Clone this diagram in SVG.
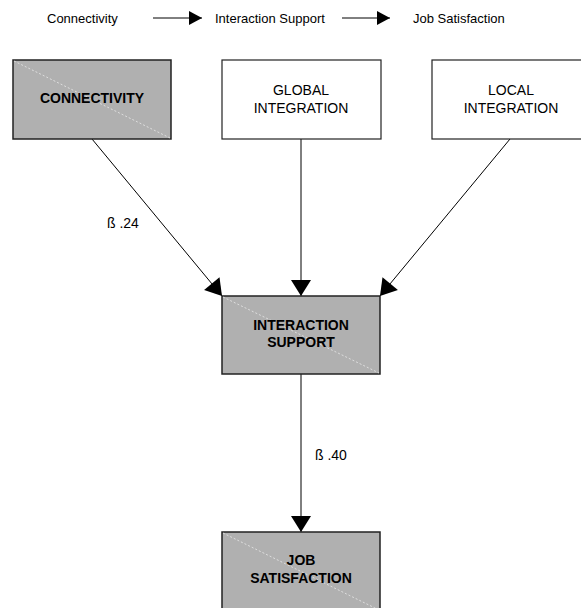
<svg xmlns="http://www.w3.org/2000/svg" width="581" height="608" viewBox="0 0 581 608">
<style>
  text { font-family: "Liberation Sans", Arial, sans-serif; fill: #000; }
  .legend { font-size: 13px; }
  .lbl { font-size: 14px; text-anchor: middle; }
  .bold { font-weight: bold; }
  .beta { font-size: 14px; }
  .gray { fill: #b0b0b0; stroke: #222; stroke-width: 1.5; }
  .white { fill: #fff; stroke: #222; stroke-width: 1.2; }
  .diag { stroke: #e8e8e8; stroke-width: 0.8; stroke-dasharray: 2 2; fill: none; }
  .conn { stroke: #000; stroke-width: 1; fill: none; }
</style>
<defs>
  <marker id="ah" markerUnits="userSpaceOnUse" markerWidth="20" markerHeight="20" viewBox="0 0 16 20" refX="16" refY="10" orient="auto">
    <path d="M0,0 L16,10 L0,20 Z" fill="#000"/>
  </marker>
  <marker id="ahs" markerUnits="userSpaceOnUse" markerWidth="14" markerHeight="14" viewBox="0 0 13 14" refX="13" refY="7" orient="auto">
    <path d="M0,0 L13,7 L0,14 Z" fill="#000"/>
  </marker>
</defs>
<rect width="581" height="608" fill="#fff"/>

<g id="legend">
  <text class="legend" x="47" y="23">Connectivity</text>
  <line class="conn" x1="153" y1="18" x2="202" y2="18" marker-end="url(#ahs)"/>
  <text class="legend" x="215" y="23">Interaction Support</text>
  <line class="conn" x1="342" y1="18" x2="390" y2="18" marker-end="url(#ahs)"/>
  <text class="legend" x="413" y="23">Job Satisfaction</text>
</g>

<g id="connectors">
  <line class="conn" x1="92" y1="139" x2="222" y2="296" marker-end="url(#ah)"/>
  <line class="conn" x1="301" y1="139" x2="301" y2="296" marker-end="url(#ah)"/>
  <line class="conn" x1="510" y1="139" x2="380" y2="296" marker-end="url(#ah)"/>
  <line class="conn" x1="301" y1="374" x2="301" y2="532" marker-end="url(#ah)"/>
  <text class="beta" x="107" y="228">ß .24</text>
  <text class="beta" x="315" y="460">ß .40</text>
</g>

<g id="connectivity">
  <rect class="gray" x="13" y="60" width="158" height="79"/>
  <line class="diag" x1="14" y1="61" x2="170" y2="138"/>
  <text class="lbl bold" x="92" y="103">CONNECTIVITY</text>
</g>

<g id="global-integration">
  <rect class="white" x="222" y="60" width="159" height="79"/>
  <text class="lbl" x="301" y="95">GLOBAL</text>
  <text class="lbl" x="301" y="113">INTEGRATION</text>
</g>

<g id="local-integration">
  <rect class="white" x="432" y="60" width="159" height="79"/>
  <text class="lbl" x="511" y="95">LOCAL</text>
  <text class="lbl" x="511" y="113">INTEGRATION</text>
</g>

<g id="interaction-support">
  <rect class="gray" x="222" y="296" width="158" height="78"/>
  <line class="diag" x1="223" y1="297" x2="379" y2="373"/>
  <text class="lbl bold" x="301" y="330">INTERACTION</text>
  <text class="lbl bold" x="301" y="347">SUPPORT</text>
</g>

<g id="job-satisfaction">
  <rect class="gray" x="222" y="532" width="158" height="80"/>
  <line class="diag" x1="223" y1="533" x2="379" y2="610"/>
  <text class="lbl bold" x="301" y="565">JOB</text>
  <text class="lbl bold" x="301" y="583">SATISFACTION</text>
</g>
</svg>
